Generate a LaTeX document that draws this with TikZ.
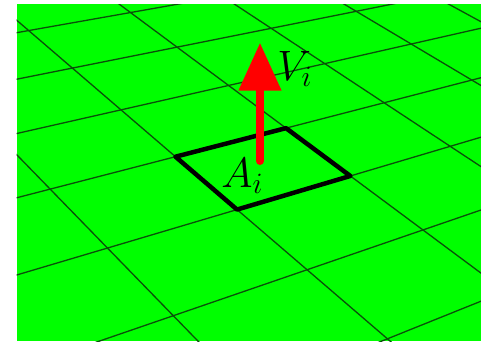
\documentclass[tikz,border=0pt]{standalone}
\usetikzlibrary{arrows.meta}
\definecolor{ground}{RGB}{0,255,0}
\definecolor{gridc}{RGB}{10,80,10}
\definecolor{vecred}{RGB}{255,0,0}
\tikzset{
  gridline/.style={draw=gridc, line width=1.3pt},
  cellbox/.style={draw=black, line width=4.5pt, line join=round},
  vecarrow/.style={draw=vecred, line width=8pt, line cap=round, -{Triangle[width=41pt,length=48pt]}},
  lab/.style={inner sep=0pt, anchor=base west, font=\huge, scale=2.05}
}
% plane-to-picture homography (picture units: px, y downwards)
\def\homA{47.2}\def\homB{128.5}\def\homC{175.5}
\def\homD{40.2}\def\homE{-20.5}\def\homF{156.7}
\def\homG{-0.0605}\def\homH{0.063}
\newcommand\setplanept[3]{%
  \pgfmathsetmacro\hmw{1+(\homG)*(#2)+(\homH)*(#3)}%
  \pgfmathsetmacro\hmx{(\homC+(\homA)*(#2)+(\homB)*(#3))/\hmw}%
  \pgfmathsetmacro\hmy{(\homF+(\homD)*(#2)+(\homE)*(#3))/\hmw}%
  \coordinate (#1) at (\hmx,\hmy);}
\begin{document}
\begin{tikzpicture}[x=1pt,y=-1pt]
\useasboundingbox (0,0) rectangle (481,341);
\fill[white] (0,0) rectangle (481,341);
\fill[ground] (16.7,4) rectangle (481,341);
\begin{scope}
  \clip (16.7,4) rectangle (481,341);
  \foreach \u in {-7,...,6} {
    \setplanept{ua\u}{\u}{-5}
    \setplanept{ub\u}{\u}{7}
    \draw[gridline] (ua\u) -- (ub\u);
  }
  \foreach \v in {-5,...,7} {
    \setplanept{va\v}{-7}{\v}
    \setplanept{vb\v}{6}{\v}
    \draw[gridline] (va\v) -- (vb\v);
  }
\end{scope}
\setplanept{sqL}{0}{0}
\setplanept{sqB}{1}{0}
\setplanept{sqR}{1}{1}
\setplanept{sqT}{0}{1}
\draw[cellbox] (sqL) -- (sqB) -- (sqR) -- (sqT) -- cycle;
\coordinate (vfoot) at (260,161);
\coordinate (vtip) at (260,42.7);
\draw[vecarrow] (vfoot) -- (vtip);
\node[lab] (vlab) at (277,80) {$V_i$};
\node[lab] (alab) at (221,187) {$A_i$};
\end{tikzpicture}
\end{document}
